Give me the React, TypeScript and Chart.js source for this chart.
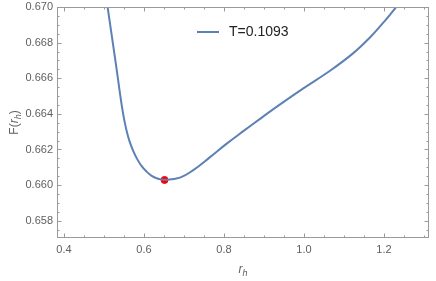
import React, { useEffect, useRef } from "react";
import { Chart, registerables } from "chart.js";

Chart.register(...registerables);

const rValues = [0.509, 0.5185, 0.527, 0.53525, 0.54225, 0.54675, 0.55125, 0.55675, 0.56375, 0.57325, 0.58375, 0.59425, 0.60625, 0.61925, 0.635, 0.65125, 0.69, 0.7233, 0.765, 0.8068, 0.8483, 0.89, 0.9358, 0.9983, 1.065, 1.1233, 1.165, 1.1983, 1.2305];
const fValues = [0.67, 0.66853, 0.66722, 0.66591, 0.66479, 0.66415, 0.66359, 0.66303, 0.66247, 0.66191, 0.66143, 0.66106, 0.66076, 0.66052, 0.66036, 0.6603, 0.66042, 0.66084, 0.66157, 0.66233, 0.66303, 0.66372, 0.66446, 0.66543, 0.66642, 0.66741, 0.66829, 0.66912, 0.67];
const minPoint = [0.6513, 0.66029];
const xTickLabels = [0.4, 0.6, 0.8, 1.0, 1.2];
const yTickLabels = [0.658, 0.66, 0.662, 0.664, 0.666, 0.668, 0.67];
const legendLabel = "T=0.1093";

const LINE = "#5E81B5";
const FRAME = "#9a9a9a";
const LABEL = "#5f5f5f";

const framePlugin = {
  id: "frame",
  afterDatasetsDraw(chart: any) {
    const { ctx, chartArea, scales } = chart;
    const { left, right, top, bottom } = chartArea;
    const x = scales.x;
    const y = scales.y;
    ctx.save();
    ctx.strokeStyle = FRAME;
    ctx.lineWidth = 1;
    ctx.strokeRect(Math.round(left) + 0.5, Math.round(top) + 0.5, Math.round(right - left) - 1, Math.round(bottom - top) - 1);
    for (let i = 0; i <= 18; i++) {
      const v = 0.4 + i * 0.05;
      if (v > x.max) break;
      const px = Math.round(x.getPixelForValue(v)) + 0.5;
      const len = i % 4 === 0 ? 4.5 : 2.5;
      ctx.beginPath();
      ctx.moveTo(px, bottom);
      ctx.lineTo(px, bottom - len);
      ctx.moveTo(px, top);
      ctx.lineTo(px, top + len);
      ctx.stroke();
    }
    for (let i = 0; i <= 30; i++) {
      const v = 0.6575 + i * 0.0005;
      if (v > y.max + 1e-9) break;
      const py = Math.round(y.getPixelForValue(v)) + 0.5;
      const len = (i - 1) % 4 === 0 ? 4.5 : 2.5;
      ctx.beginPath();
      ctx.moveTo(left, py);
      ctx.lineTo(left + len, py);
      ctx.moveTo(right, py);
      ctx.lineTo(right - len, py);
      ctx.stroke();
    }
    ctx.fillStyle = LABEL;
    ctx.font = '11px "Liberation Sans", Arial, sans-serif';
    ctx.textAlign = "center";
    ctx.textBaseline = "middle";
    for (const v of xTickLabels) {
      ctx.fillText(v.toFixed(1), x.getPixelForValue(v), bottom + 12);
    }
    ctx.textAlign = "right";
    for (const v of yTickLabels) {
      ctx.fillText(v.toFixed(3), left - 4, y.getPixelForValue(v));
    }
    const cx = (left + right) / 2;
    ctx.textAlign = "left";
    ctx.textBaseline = "alphabetic";
    ctx.font = 'italic 12px "Liberation Sans", Arial, sans-serif';
    const rw = ctx.measureText("r").width;
    ctx.font = 'italic 9px "Liberation Sans", Arial, sans-serif';
    const hw = ctx.measureText("h").width;
    const sx = cx - (rw + hw) / 2;
    ctx.font = 'italic 12px "Liberation Sans", Arial, sans-serif';
    ctx.fillText("r", sx, 273);
    ctx.font = 'italic 9px "Liberation Sans", Arial, sans-serif';
    ctx.fillText("h", sx + rw, 276);
    ctx.save();
    const cy = (top + bottom) / 2;
    ctx.translate(14, cy);
    ctx.rotate(-Math.PI / 2);
    ctx.font = '12px "Liberation Sans", Arial, sans-serif';
    const w1 = ctx.measureText("F(").width;
    ctx.font = 'italic 12px "Liberation Sans", Arial, sans-serif';
    const w2 = ctx.measureText("r").width;
    ctx.font = 'italic 9px "Liberation Sans", Arial, sans-serif';
    const w3 = ctx.measureText("h").width;
    ctx.font = '12px "Liberation Sans", Arial, sans-serif';
    const w4 = ctx.measureText(")").width;
    let tx = -(w1 + w2 + w3 + w4) / 2;
    ctx.fillText("F(", tx, 4);
    tx += w1;
    ctx.font = 'italic 12px "Liberation Sans", Arial, sans-serif';
    ctx.fillText("r", tx, 4);
    tx += w2;
    ctx.font = 'italic 9px "Liberation Sans", Arial, sans-serif';
    ctx.fillText("h", tx, 7);
    tx += w3;
    ctx.font = '12px "Liberation Sans", Arial, sans-serif';
    ctx.fillText(")", tx, 4);
    ctx.restore();
    ctx.strokeStyle = LINE;
    ctx.lineWidth = 2;
    ctx.beginPath();
    ctx.moveTo(197, 32);
    ctx.lineTo(219, 32);
    ctx.stroke();
    ctx.fillStyle = "#222";
    ctx.font = '14px "Liberation Sans", Arial, sans-serif';
    ctx.textBaseline = "middle";
    ctx.fillText(legendLabel, 229, 32);
    ctx.restore();
  },
};

export default function App() {
  const ref = useRef<HTMLCanvasElement>(null);
  useEffect(() => {
    if (!ref.current) return;
    const chart = new Chart(ref.current, {
      type: "line",
      data: {
        datasets: [
          {
            label: legendLabel,
            data: rValues.map((r, i) => ({ x: r, y: fValues[i] })),
            borderColor: LINE,
            borderWidth: 2,
            pointRadius: 0,
            tension: 0.4,
            fill: false,
          },
          {
            label: "min",
            data: [{ x: minPoint[0], y: minPoint[1] }],
            borderColor: "#ff0000",
            backgroundColor: "#ff0000",
            pointRadius: 3.5,
            showLine: false,
          },
        ],
      },
      options: {
        animation: false,
        responsive: false,
        layout: { padding: { left: 57, right: 7, top: 7, bottom: 43 } },
        plugins: { legend: { display: false }, tooltip: { enabled: false } },
        scales: {
          x: { type: "linear", min: 0.3825, max: 1.3125, display: false },
          y: { type: "linear", min: 0.65703, max: 0.67, display: false },
        },
      },
      plugins: [framePlugin],
    });
    return () => chart.destroy();
  }, []);
  return (
    <div style={{ position: "fixed", left: 0, top: 0, width: 436, height: 281, background: "#fff" }}>
      <canvas ref={ref} width={436} height={281} style={{ display: "block" }} />
    </div>
  );
}
